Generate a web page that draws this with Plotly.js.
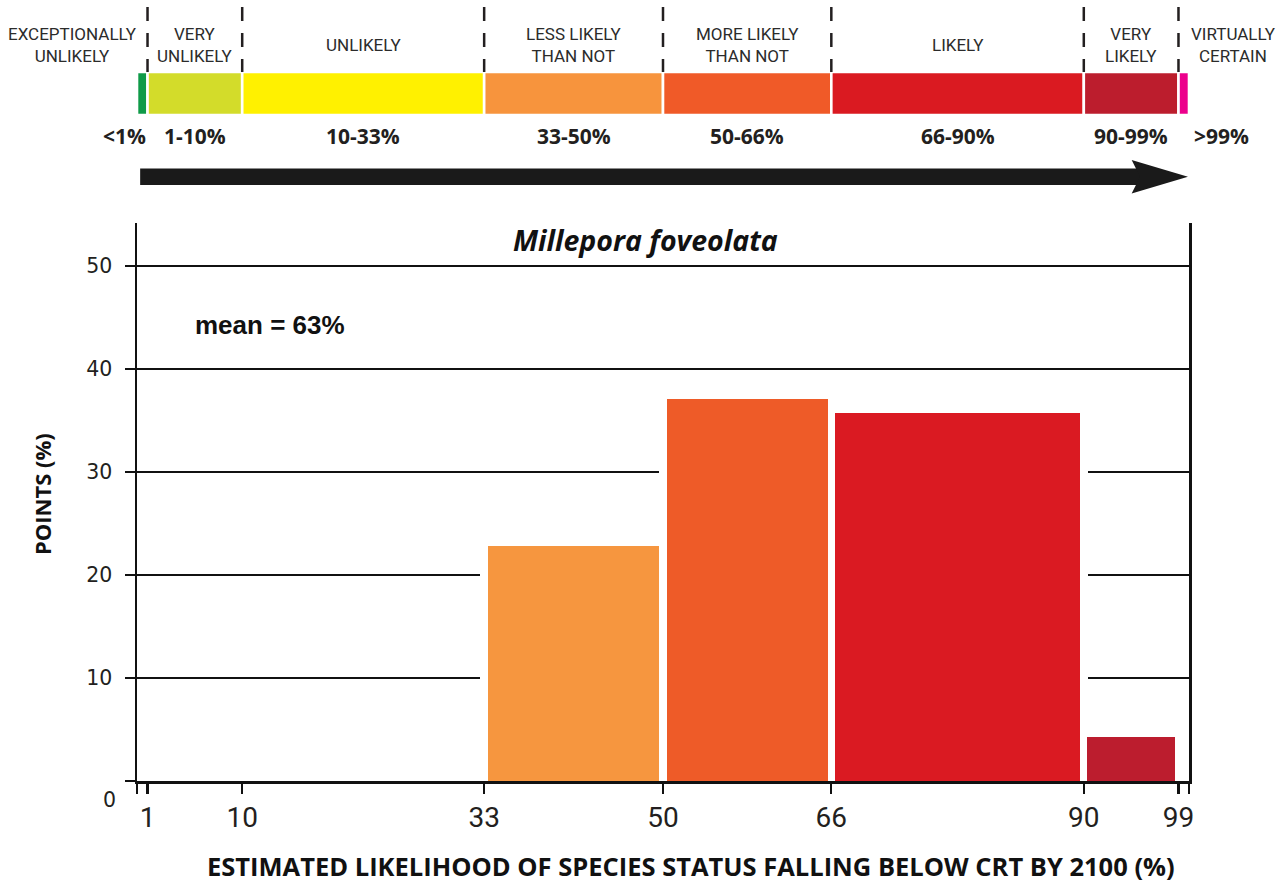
<!DOCTYPE html>
<html>
<head>
<meta charset="utf-8">
<script src="https://cdn.plot.ly/plotly-3.0.1.min.js"></script>
<style>html,body{margin:0;padding:0;background:#fff;}#chart{width:1288px;height:882px;}</style>
</head>
<body>
<div id="chart"></div>
<script>
// ---------- data ----------
// likelihood scale (top band)
const scaleEdges = [0, 1, 10, 33, 50, 66, 90, 99, 100];
const scaleColors = ['#0f9a48', '#d3dc2a', '#fff100', '#f7943d', '#f05a28', '#da1a21', '#bc1d2d', '#ec008c'];
const scaleNames = ['EXCEPTIONALLY<br>UNLIKELY', 'VERY<br>UNLIKELY', 'UNLIKELY', 'LESS LIKELY<br>THAN NOT',
                    'MORE LIKELY<br>THAN NOT', 'LIKELY', 'VERY<br>LIKELY', 'VIRTUALLY<br>CERTAIN'];
const scaleRanges = ['<1%', '1-10%', '10-33%', '33-50%', '50-66%', '66-90%', '90-99%', '>99%'];

// histogram of points
const binEdges = [33, 50, 66, 90, 99];
const pointsPct = [22.8, 37.1, 35.7, 4.3];
const binColors = ['#f6963f', '#ee5b28', '#da1a22', '#bc1d2e'];

const xTickVals = [0, 1, 10, 33, 50, 66, 90, 99, 100];
const xTickText = ['', '1', '10', '33', '50', '66', '90', '99', ''];
const yTickVals = [0, 10, 20, 30, 40, 50];
const yTickText = ['', '10', '20', '30', '40', '50'];

const speciesName = 'Millepora foveolata';
const meanText = 'mean = 63%';
const xTitle = 'ESTIMATED LIKELIHOOD OF SPECIES STATUS FALLING BELOW CRT BY 2100 (%)';
const yTitle = 'POINTS (%)';

// ---------- derived ----------
const INK = '#231f20';
const LABEL_FONT = 'Roboto, "Liberation Sans", sans-serif';
const GAP = 0.67;   // white gap between bars (x units)
const HALO = 0.76;  // white clearance around bars (x units)

const scaleStarts = scaleEdges.slice(0, -1);
const scaleWidths = scaleStarts.map((s, i) => scaleEdges[i + 1] - s);
const scaleMids = scaleStarts.map((s, i) => s + scaleWidths[i] / 2);

const binStarts = binEdges.slice(0, -1);
const binWidths = binStarts.map((s, i) => binEdges[i + 1] - s);
const binMids = binStarts.map((s, i) => s + binWidths[i] / 2);

const traces = [
  { // top likelihood band
    type: 'bar', orientation: 'h', xaxis: 'x', yaxis: 'y2',
    y: scaleStarts.map(() => 93.5), x: scaleWidths, base: scaleStarts,
    width: 43,
    marker: { color: scaleColors, line: { color: '#ffffff', width: 2.6 } },
    hoverinfo: 'skip', showlegend: false
  },
  { // white halo behind bars (hides grid lines)
    type: 'bar', xaxis: 'x', yaxis: 'y',
    x: binMids, y: pointsPct, width: binWidths.map(w => w + HALO),
    marker: { color: '#ffffff', line: { width: 0 } },
    hoverinfo: 'skip', showlegend: false
  },
  { // histogram bars
    type: 'bar', xaxis: 'x', yaxis: 'y',
    x: binMids, y: pointsPct, width: binWidths.map(w => w - GAP),
    marker: { color: binColors, line: { width: 0 } },
    showlegend: false
  }
];

const shapes = [];
// dashed separators above the band
scaleEdges.slice(1, -1).forEach(e => {
  shapes.push({ type: 'line', xref: 'x', yref: 'y2', x0: e, x1: e, y0: 7, y1: 72,
                line: { color: INK, width: 2.5, dash: '14px,12px' } });
});
// big arrow
shapes.push({ type: 'rect', xref: 'x', yref: 'y2', x0: 0.3, x1: 95.6, y0: 168.5, y1: 185,
              fillcolor: '#1a1a1a', line: { width: 0 } });
shapes.push({ type: 'path', xref: 'x', yref: 'y2',
              path: 'M94.55,160 L99.9,176.75 L94.55,193.5 L95.35,176.75 Z',
              fillcolor: '#1a1a1a', line: { width: 0 } });

const annotations = [];
scaleNames.forEach((t, i) => {
  const a = { xref: 'x', yref: 'y2', x: scaleMids[i], y: 45, text: t, showarrow: false,
              xanchor: 'center', yanchor: 'middle', align: 'center',
              font: { family: LABEL_FONT, size: 17, color: '#2b2b2b' } };
  if (i === 0) { a.x = 0; a.xanchor = 'right'; a.xshift = 2; }
  if (i === scaleNames.length - 1) { a.x = 100; a.xanchor = 'left'; a.xshift = 0; }
  annotations.push(a);
});
scaleRanges.forEach((t, i) => {
  const a = { xref: 'x', yref: 'y2', x: scaleMids[i], y: 136, text: '<b>' + t + '</b>', showarrow: false,
              xanchor: 'center', yanchor: 'middle',
              font: { family: '"Open Sans", sans-serif', size: 21, color: INK } };
  if (i === 0) { a.x = 1; a.xanchor = 'right'; a.xshift = 0; }
  if (i === scaleRanges.length - 1) { a.x = 100; a.xanchor = 'left'; a.xshift = 3; }
  annotations.push(a);
});
// species title
annotations.push({ xref: 'paper', yref: 'paper', x: (645 - 137) / 1052, y: (781 - 240) / 781,
  text: '<b><i>' + speciesName + '</i></b>', showarrow: false, xanchor: 'center', yanchor: 'middle',
  font: { family: '"Open Sans", sans-serif', size: 28.5, color: '#111' } });
// mean
annotations.push({ xref: 'paper', yref: 'paper', x: (193 - 137) / 1052, y: (781 - 325) / 781,
  text: '<b>' + meanText + '</b>', showarrow: false, xanchor: 'left', yanchor: 'middle',
  font: { family: '"Liberation Sans", Arial, sans-serif', size: 26, color: '#111' } });
// axis titles
annotations.push({ xref: 'paper', yref: 'paper', x: (691 - 137) / 1052, y: (781 - 866) / 781,
  text: '<b>' + xTitle + '</b>', showarrow: false, xanchor: 'center', yanchor: 'middle',
  font: { family: '"Open Sans", sans-serif', size: 25.5, color: '#111' } });
annotations.push({ xref: 'paper', yref: 'paper', x: (42 - 137) / 1052, y: (781 - 494) / 781,
  text: '<b>' + yTitle + '</b>', showarrow: false, xanchor: 'center', yanchor: 'middle', textangle: -90,
  font: { family: '"Open Sans", sans-serif', size: 22, color: '#111' } });
// the lone "0"
annotations.push({ xref: 'paper', yref: 'paper', x: (118 - 137) / 1052, y: (781 - 800) / 781,
  text: '0', showarrow: false, xanchor: 'right', yanchor: 'middle',
  font: { family: '"DejaVu Sans", sans-serif', size: 20.5, color: INK } });

const layout = {
  width: 1288, height: 882,
  margin: { l: 137, r: 99, t: 0, b: 101, pad: 0 },
  paper_bgcolor: '#ffffff', plot_bgcolor: '#ffffff',
  barmode: 'overlay', bargap: 0,
  showlegend: false,
  xaxis: {
    range: [0, 100], domain: [0, 1], anchor: 'y', fixedrange: true,
    tickmode: 'array', tickvals: xTickVals, ticktext: xTickText,
    ticks: 'outside', ticklen: 10, tickwidth: 2.2, tickcolor: '#111',
    showline: true, linecolor: '#111', linewidth: 2.5, mirror: false,
    showgrid: false, zeroline: false,
    tickfont: { family: LABEL_FONT, size: 28, color: INK }, ticklabelstandoff: 0
  },
  yaxis: {
    range: [0, 54.2], domain: [0, (781 - 223) / 781], anchor: 'x', fixedrange: true,
    tickmode: 'array', tickvals: yTickVals, ticktext: yTickText,
    ticks: 'outside', ticklen: 10, tickwidth: 2.2, tickcolor: '#111',
    showline: true, linecolor: '#111', linewidth: 2.5, mirror: true,
    showgrid: true, gridcolor: '#111', gridwidth: 2, zeroline: false,
    tickfont: { family: '"DejaVu Sans", sans-serif', size: 20.5, color: INK }, ticklabelstandoff: 8
  },
  yaxis2: {
    domain: [(781 - 205) / 781, 1], range: [205, 0], anchor: 'x', visible: false, fixedrange: true
  },
  shapes: shapes,
  annotations: annotations
};

Plotly.newPlot('chart', traces, layout, { displayModeBar: false, staticPlot: true });
</script>
</body>
</html>
